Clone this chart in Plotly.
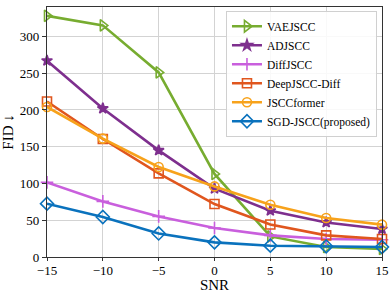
import plotly.graph_objects as go

snr = [-15, -10, -5, 0, 5, 10, 15]
vaejscc = [328, 315, 251, 113, 28, 13.5, 11]
adjscc = [267, 202, 145, 93, 63, 47, 38]
diffjscc = [101.5, 75.6, 55.2, 39.4, 29.4, 24.5, 23.5]
deepjscc_diff = [211.5, 160.5, 113.7, 72, 44.3, 29.4, 24.5]
jsccformer = [204, 161, 122.4, 96, 71, 53, 44]
sgd_jscc = [72.5, 54.4, 32, 19.9, 15.4, 14.4, 13.6]

series = [
    ("VAEJSCC", vaejscc, "#77AC30", "triangle-right-open", 10),
    ("ADJSCC", adjscc, "#7E2F8E", "star", 8),
    ("DiffJSCC", diffjscc, "#C95FDD", "cross-thin-open", 9),
    ("DeepJSCC-Diff", deepjscc_diff, "#E0561E", "square-open", 9),
    ("JSCCformer", jsccformer, "#F7A21B", "circle-open", 9),
    ("SGD-JSCC(proposed)", sgd_jscc, "#0A72BD", "diamond-open", 10),
]

fig = go.Figure()
for name, ys, col, sym, sz in series:
    fig.add_trace(go.Scatter(
        x=snr, y=ys, name=name, mode="lines+markers",
        line=dict(color=col, width=2.6),
        marker=dict(symbol=sym, size=sz, color=col, line=dict(color=col, width=1.6)),
        cliponaxis=False,
    ))

font = "Liberation Serif"
fig.update_layout(
    width=390, height=293,
    margin=dict(l=47, r=8, t=7, b=36, autoexpand=False),
    paper_bgcolor="white", plot_bgcolor="white",
    font=dict(family=font, size=13, color="black"),
    showlegend=True,
    legend=dict(
        x=0.985, y=0.985, xanchor="right", yanchor="top",
        bgcolor="rgba(255,255,255,0.85)", bordercolor="#d0d0d0", borderwidth=1,
        font=dict(family=font, size=11.5),
        itemwidth=30, tracegroupgap=0,
    ),
)
fig.update_xaxes(
    range=[-15, 15], tickvals=[-15, -10, -5, 0, 5, 10, 15],
    ticktext=["\u221215", "\u221210", "\u22125", "0", "5", "10", "15"],
    showgrid=True, gridcolor="#d3d3d3", gridwidth=1,
    showline=True, linecolor="#333333", linewidth=1.2, mirror=True,
    ticks="outside", ticklen=3, tickcolor="#333333", ticklabelstandoff=-2,
    zeroline=False,
    title=dict(text="SNR", font=dict(size=15), standoff=5),
)
fig.update_yaxes(
    range=[0, 340], tickvals=[0, 50, 100, 150, 200, 250, 300],
    showgrid=True, gridcolor="#d3d3d3", gridwidth=1,
    showline=True, linecolor="#333333", linewidth=1.2, mirror=True,
    ticks="outside", ticklen=4, tickcolor="#333333",
    zeroline=False,
    title=dict(text="FID \u2193", font=dict(size=15), standoff=9),
)

fig.write_html("out.html", config={"displayModeBar": False},
               post_script="document.body.style.margin='0';")
